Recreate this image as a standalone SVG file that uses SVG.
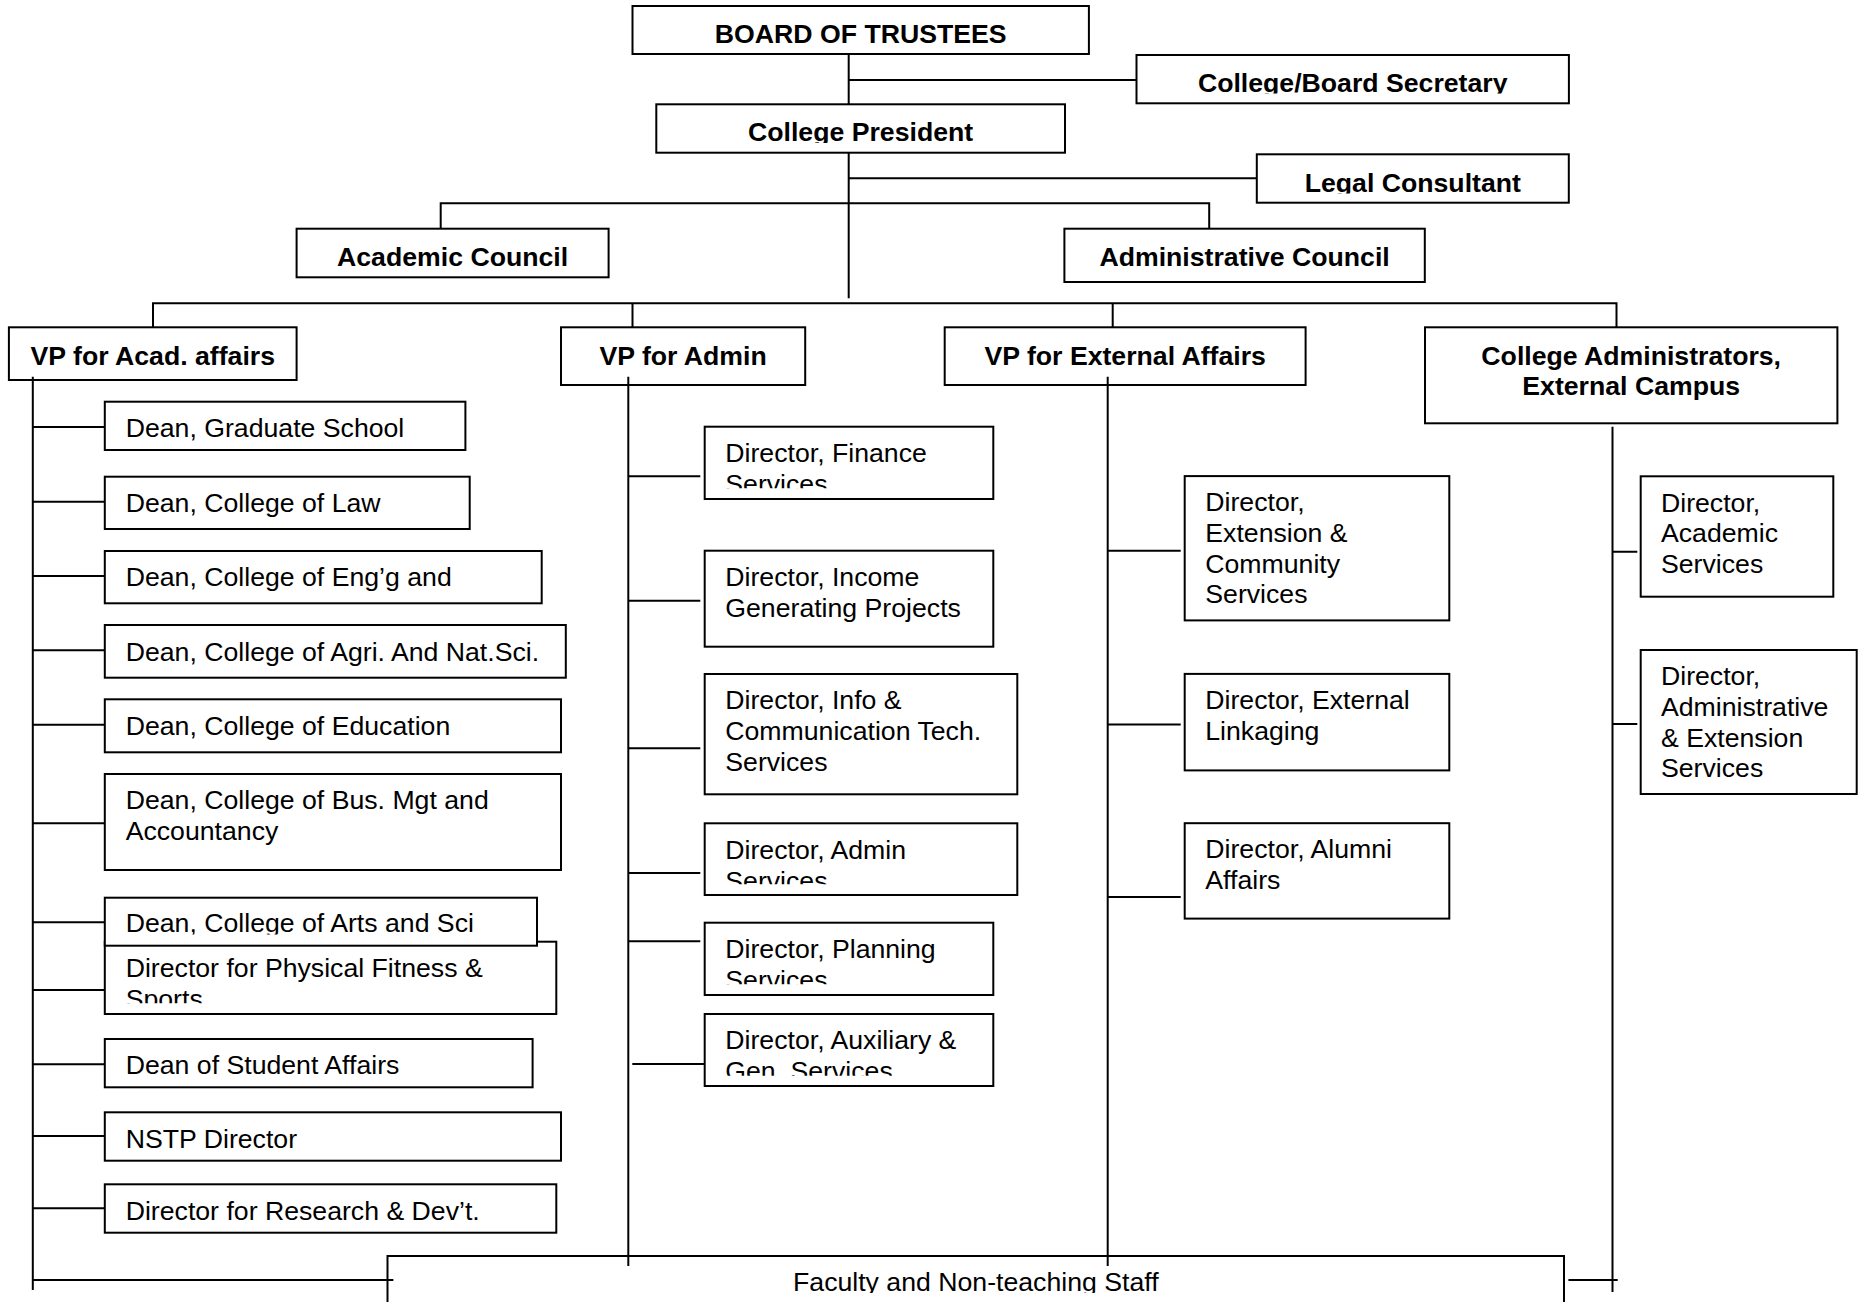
<svg xmlns="http://www.w3.org/2000/svg" width="1868" height="1302" viewBox="0 0 1868 1302">
<style>
.box{fill:#fff;stroke:#000;stroke-width:2}
.ln{stroke:#000;stroke-width:2;fill:none}
.b{font-family:"Liberation Sans",Arial,sans-serif;font-weight:bold;font-size:26.67px;text-anchor:middle;fill:#000}
.r{font-family:"Liberation Sans",Arial,sans-serif;font-size:26.67px;fill:#000}
</style>
<defs>
<clipPath id="cSec"><rect x="1136" y="55" width="433" height="38.5"/></clipPath>
<clipPath id="cPres"><rect x="656" y="104" width="409" height="39"/></clipPath>
<clipPath id="cLegal"><rect x="1256" y="154" width="313" height="39.5"/></clipPath>
<clipPath id="cFin"><rect x="705" y="427" width="288" height="61.3"/></clipPath>
<clipPath id="cAdm"><rect x="705" y="823" width="312" height="61.3"/></clipPath>
<clipPath id="cPlan"><rect x="705" y="923" width="288" height="61.3"/></clipPath>
<clipPath id="cAux"><rect x="705" y="1014" width="288" height="61.7"/></clipPath>
<clipPath id="cFit"><rect x="105" y="942" width="451" height="61.3"/></clipPath>
<clipPath id="cArts"><rect x="105" y="898" width="432" height="36.5"/></clipPath>
<clipPath id="cFac"><rect x="388" y="1256" width="1176" height="37"/></clipPath>
</defs>
<rect width="1868" height="1302" fill="#fff"/>

<g id="board"><rect class="box" x="632.5" y="6" width="456.4" height="48"/><text class="b" x="860.7" y="42.5">BOARD OF TRUSTEES</text></g>
<g id="secretary"><rect class="box" x="1136.5" y="55" width="432.4" height="48.3"/><text class="b" x="1352.7" y="91.5" clip-path="url(#cSec)">College/Board Secretary</text></g>
<g id="president"><rect class="box" x="656.3" y="104.3" width="408.7" height="48.4"/><text class="b" x="860.6" y="140.8" clip-path="url(#cPres)">College President</text></g>
<g id="legal"><rect class="box" x="1256.8" y="154.3" width="312" height="48.4"/><text class="b" x="1412.8" y="191.5" clip-path="url(#cLegal)">Legal Consultant</text></g>
<g id="academic-council"><rect class="box" x="296.6" y="228.7" width="312" height="48.6"/><text class="b" x="452.6" y="265.8">Academic Council</text></g>
<g id="admin-council"><rect class="box" x="1064.4" y="228.7" width="360.4" height="53.3"/><text class="b" x="1244.6" y="265.8">Administrative Council</text></g>
<g id="vp-acad"><rect class="box" x="8.9" y="327.3" width="287.7" height="52.7"/><text class="b" x="152.8" y="364.8">VP for Acad. affairs</text></g>
<g id="vp-admin"><rect class="box" x="561" y="327.3" width="244.2" height="57.7"/><text class="b" x="683.1" y="364.8">VP for Admin</text></g>
<g id="vp-ext"><rect class="box" x="944.7" y="327.3" width="360.9" height="57.7"/><text class="b" x="1125.2" y="364.8">VP for External Affairs</text></g>
<g id="college-admin"><rect class="box" x="1425" y="327.3" width="412.4" height="96"/><text class="b" x="1631.2" y="364.8">College Administrators,<tspan x="1631.2" y="395">External Campus</tspan></text></g>

<g id="dean-grad"><rect class="box" x="104.8" y="401.7" width="360.6" height="48.3"/><text class="r" x="125.7" y="437">Dean, Graduate School</text></g>
<g id="dean-law"><rect class="box" x="104.8" y="476.7" width="364.9" height="52.3"/><text class="r" x="125.7" y="512">Dean, College of Law</text></g>
<g id="dean-engg"><rect class="box" x="104.8" y="551" width="436.9" height="52.3"/><text class="r" x="125.7" y="586">Dean, College of Eng’g and</text></g>
<g id="dean-agri"><rect class="box" x="104.8" y="625" width="461" height="52.7"/><text class="r" x="125.7" y="660.5">Dean, College of Agri. And Nat.Sci.</text></g>
<g id="dean-educ"><rect class="box" x="104.8" y="699.3" width="456.2" height="53"/><text class="r" x="125.7" y="734.5">Dean, College of Education</text></g>
<g id="dean-bus"><rect class="box" x="104.8" y="774" width="456.2" height="96"/><text class="r" x="125.7" y="808.5">Dean, College of Bus. Mgt and<tspan x="125.7" y="839.5">Accountancy</tspan></text></g>
<g id="dir-fitness"><rect class="box" x="104.8" y="941.7" width="451.5" height="72.3"/><text class="r" x="125.7" y="976.5" clip-path="url(#cFit)">Director for Physical Fitness &amp;<tspan x="125.7" y="1007.5">Sports</tspan></text></g>
<g id="dean-arts"><rect class="box" x="104.8" y="897.7" width="432.2" height="48"/><text class="r" x="125.7" y="932.3" clip-path="url(#cArts)">Dean, College of Arts and Sci</text></g>
<g id="dean-student"><rect class="box" x="104.8" y="1039" width="427.8" height="48.3"/><text class="r" x="125.7" y="1074">Dean of Student Affairs</text></g>
<g id="nstp"><rect class="box" x="104.8" y="1112.3" width="456.2" height="48.4"/><text class="r" x="125.7" y="1147.7">NSTP Director</text></g>
<g id="dir-research"><rect class="box" x="104.8" y="1184.3" width="451.5" height="48.4"/><text class="r" x="125.7" y="1220">Director for Research &amp; Dev’t.</text></g>

<g id="dir-finance"><rect class="box" x="704.7" y="426.7" width="288.6" height="72.3"/><text class="r" x="725.3" y="461.7" clip-path="url(#cFin)">Director, Finance<tspan x="725.3" y="492.7">Services</tspan></text></g>
<g id="dir-income"><rect class="box" x="704.7" y="550.7" width="288.6" height="96"/><text class="r" x="725.3" y="585.7">Director, Income<tspan x="725.3" y="616.7">Generating Projects</tspan></text></g>
<g id="dir-ict"><rect class="box" x="704.7" y="674" width="312.6" height="120.3"/><text class="r" x="725.3" y="709.3">Director, Info &amp;<tspan x="725.3" y="740.3">Communication Tech.</tspan><tspan x="725.3" y="771">Services</tspan></text></g>
<g id="dir-admin"><rect class="box" x="704.7" y="823.3" width="312.6" height="71.7"/><text class="r" x="725.3" y="859" clip-path="url(#cAdm)">Director, Admin<tspan x="725.3" y="890">Services</tspan></text></g>
<g id="dir-planning"><rect class="box" x="704.7" y="922.7" width="288.6" height="72.3"/><text class="r" x="725.3" y="958" clip-path="url(#cPlan)">Director, Planning<tspan x="725.3" y="989">Services</tspan></text></g>
<g id="dir-aux"><rect class="box" x="704.7" y="1014" width="288.6" height="72"/><text class="r" x="725.3" y="1049" clip-path="url(#cAux)">Director, Auxiliary &amp;<tspan x="725.3" y="1080">Gen. Services</tspan></text></g>

<g id="dir-extension"><rect class="box" x="1184.7" y="476.1" width="264.6" height="144.3"/><text class="r" x="1205.3" y="511.4">Director,<tspan x="1205.3" y="542">Extension &amp;</tspan><tspan x="1205.3" y="572.7">Community</tspan><tspan x="1205.3" y="603.3">Services</tspan></text></g>
<g id="dir-linkaging"><rect class="box" x="1184.7" y="673.9" width="264.6" height="96.5"/><text class="r" x="1205.3" y="709.3">Director, External<tspan x="1205.3" y="740">Linkaging</tspan></text></g>
<g id="dir-alumni"><rect class="box" x="1184.7" y="823.2" width="264.6" height="95.4"/><text class="r" x="1205.3" y="858.3">Director, Alumni<tspan x="1205.3" y="889">Affairs</tspan></text></g>

<g id="dir-acad-services"><rect class="box" x="1640.7" y="476.3" width="192.6" height="120.4"/><text class="r" x="1661" y="511.6">Director,<tspan x="1661" y="542.3">Academic</tspan><tspan x="1661" y="573">Services</tspan></text></g>
<g id="dir-admin-ext"><rect class="box" x="1640.7" y="650" width="216" height="144"/><text class="r" x="1661" y="685.3">Director,<tspan x="1661" y="716">Administrative</tspan><tspan x="1661" y="746.6">&amp; Extension</tspan><tspan x="1661" y="777.3">Services</tspan></text></g>

<g id="faculty"><rect class="box" x="387.5" y="1256" width="1176.5" height="60"/><text class="r" x="975.8" y="1291" text-anchor="middle" clip-path="url(#cFac)">Faculty and Non-teaching Staff</text></g>

<g id="connectors" class="ln">
<path d="M848.7 54V104.3M848.7 80H1136.5"/>
<path d="M848.7 152.7V298.3M848.7 178.3H1256.8"/>
<path d="M440.7 228.7V203.3H1209.2V228.7"/>
<path d="M153 327.3V303.3H1616.5V327.3M632.5 303.3V327.3M1112.7 303.3V327.3"/>
<path d="M32.8 376.7V1290M32.8 427H104.8M32.8 501.7H104.8M32.8 576H104.8M32.8 650.3H104.8M32.8 724.7H104.8M32.8 823.3H104.8M32.8 922.3H104.8M32.8 990H104.8M32.8 1064.3H104.8M32.8 1136H104.8M32.8 1208.3H104.8M32.8 1280H393.4"/>
<path d="M628.3 376.7V1266M628.3 476.3H700.3M628.3 600.7H700.3M628.3 748.3H700.3M628.3 873H700.3M628.3 941.3H700.3M632.3 1064H704.7"/>
<path d="M1107.7 376.7V1266M1107.7 550.7H1180.7M1107.7 724.6H1180.7M1107.7 897.1H1180.7"/>
<path d="M1612.5 426.7V1292M1612.5 551.7H1637.3M1612.5 724H1637.3M1568.4 1280H1617.7"/>
</g>
</svg>
